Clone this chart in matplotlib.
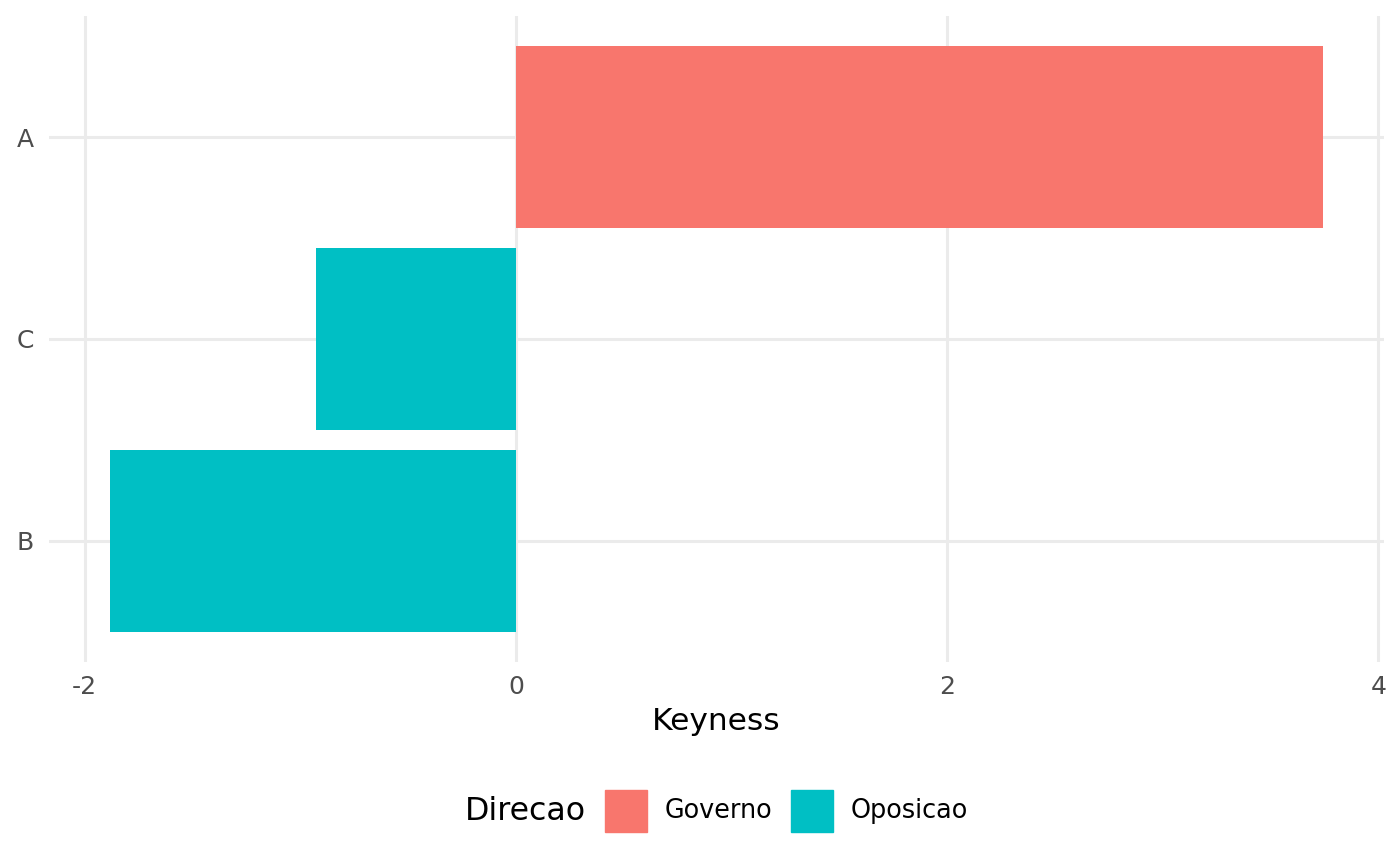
import matplotlib.pyplot as plt
from matplotlib.patches import Rectangle

# keyness per feature
features = ["B", "C", "A"]
keyness = [-1.884, -0.928, 3.745]
direcao = ["Oposicao", "Oposicao", "Governo"]
group_names = ["Governo", "Oposicao"]
group_colors = {"Governo": "#F8766D", "Oposicao": "#00BFC4"}
xticks = [-2, 0, 2, 4]

fig = plt.figure(figsize=(14, 8.66), dpi=100)
ax = fig.add_axes([49 / 1400, 1 - 662 / 866, (1384 - 49) / 1400, (662 - 16) / 866])

ypos = list(range(1, len(features) + 1))
ax.barh(ypos, keyness, height=0.9, color=[group_colors[d] for d in direcao], zorder=2)

ax.set_xlim(-2.166, 4.026)
ax.set_ylim(0.4, 3.6)
ax.set_xticks(xticks)
ax.set_xticklabels([str(t) for t in xticks])
ax.set_yticks(ypos)
ax.set_yticklabels(features)
ax.grid(True, color="#EBEBEB", linewidth=2.2, zorder=0)
ax.set_axisbelow(True)
for s in ax.spines.values():
    s.set_visible(False)
ax.tick_params(axis="both", length=0, labelsize=18, colors="#4D4D4D")
ax.tick_params(axis="y", pad=11)
ax.tick_params(axis="x", pad=9)
ax.set_xlabel("Keyness", fontsize=22.5, color="black", labelpad=6)

# legend at bottom, ggplot style
fig.text(465 / 1400, 1 - 811 / 866, "Direcao", fontsize=22.8, va="center", ha="left")
key_x = [605, 791]
for name, kx in zip(group_names, key_x):
    fig.patches.append(Rectangle((kx / 1400, 1 - 832 / 866), 42 / 1400, 42 / 866,
                                 transform=fig.transFigure, color=group_colors[name]))
    fig.text((kx + 60) / 1400, 1 - 811 / 866, name, fontsize=18.4, va="center", ha="left")

fig.savefig("out.png", dpi=100, facecolor="white")
